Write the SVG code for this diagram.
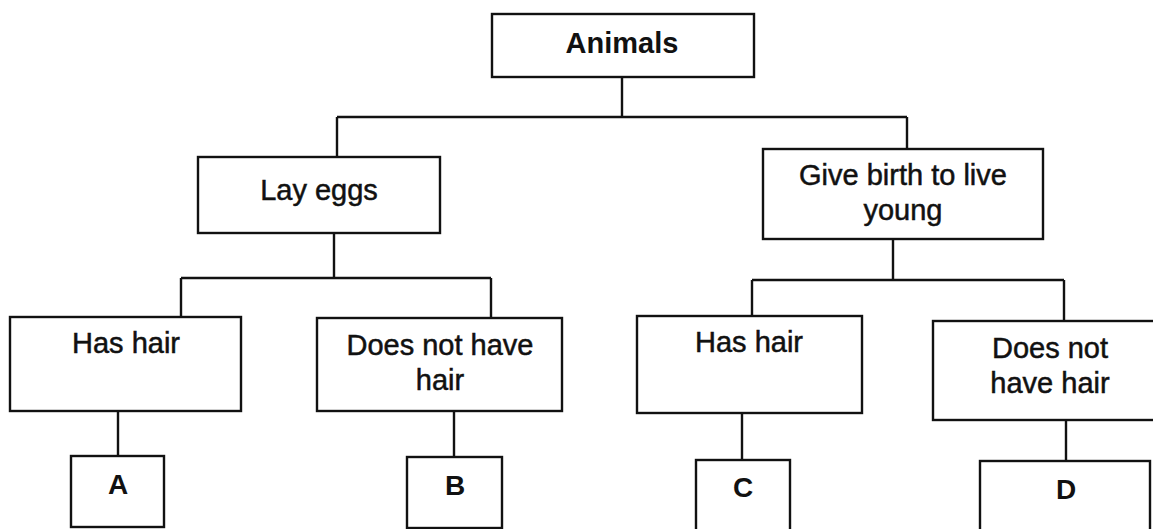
<svg xmlns="http://www.w3.org/2000/svg" width="1153" height="529" viewBox="0 0 1153 529">
<style>
.box{fill:#fff;stroke:#111;stroke-width:2.4}
.ln{fill:none;stroke:#111;stroke-width:2.4}
.t{font-family:"Liberation Sans",Arial,sans-serif;font-size:29px;fill:#111;stroke:#111;stroke-width:0.5;text-anchor:middle}
.b{font-family:"Liberation Sans",Arial,sans-serif;font-size:28px;font-weight:bold;fill:#111;text-anchor:middle}
</style>
<rect x="0" y="0" width="1153" height="529" fill="#fff"/>
<g id="connectors">
<path class="ln" d="M622,77 V117 M337,117 H907 M337,117 V157 M907,117 V149"/>
<path class="ln" d="M334,233 V278 M181,278 H491 M181,278 V317 M491,278 V318"/>
<path class="ln" d="M893,240 V280 M752,280 H1064 M752,280 V316 M1064,280 V321"/>
<path class="ln" d="M118,411 V456 M454,411 V457 M742,413 V460 M1066,420 V461"/>
</g>
<g id="animals">
<rect class="box" x="492" y="14" width="262" height="63"/>
<text class="b" x="622" y="53" style="font-size:29px">Animals</text>
</g>
<g id="lay-eggs">
<rect class="box" x="198" y="157" width="242" height="76"/>
<text class="t" x="319" y="200">Lay eggs</text>
</g>
<g id="live-young">
<rect class="box" x="763" y="149" width="280" height="90"/>
<text class="t" x="903" y="185">Give birth to live</text>
<text class="t" x="903" y="220">young</text>
</g>
<g id="has-hair-1">
<rect class="box" x="10" y="317" width="231" height="94"/>
<text class="t" x="126" y="353">Has hair</text>
</g>
<g id="no-hair-1">
<rect class="box" x="317" y="318" width="245" height="93"/>
<text class="t" x="440" y="355">Does not have</text>
<text class="t" x="440" y="390">hair</text>
</g>
<g id="has-hair-2">
<rect class="box" x="637" y="316" width="225" height="97"/>
<text class="t" x="749" y="352">Has hair</text>
</g>
<g id="no-hair-2">
<rect class="box" x="933" y="321" width="240" height="99"/>
<text class="t" x="1050" y="358">Does not</text>
<text class="t" x="1050" y="393">have hair</text>
</g>
<g id="A">
<rect class="box" x="71" y="456" width="93" height="71"/>
<text class="b" x="118" y="494">A</text>
</g>
<g id="B">
<rect class="box" x="407" y="457" width="95" height="71"/>
<text class="b" x="455" y="495">B</text>
</g>
<g id="C">
<rect class="box" x="696" y="460" width="94" height="80"/>
<text class="b" x="743" y="497">C</text>
</g>
<g id="D">
<rect class="box" x="980" y="461" width="170" height="80"/>
<text class="b" x="1066" y="499">D</text>
</g>
</svg>
